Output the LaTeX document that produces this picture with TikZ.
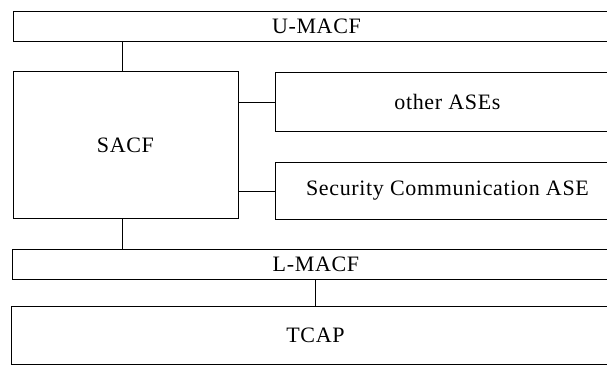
\documentclass[tikz,border=0pt]{standalone}
\usepackage{fontspec}
\setmainfont{Liberation Serif}[LetterSpace=3]
\usetikzlibrary{positioning}

\begin{document}
\begin{tikzpicture}[x=1pt,y=-1pt,line width=0.9pt,
  box/.style={draw,rectangle,anchor=north west,inner sep=0pt,
    font=\fontsize{22}{26}\selectfont}]

  \useasboundingbox (0,0) rectangle (607,365);
  \clip (0,0) rectangle (607,365);

  \node[box,minimum width=606pt,minimum height=30pt]  (umacf) at (13,11)   {U-MACF};
  \node[box,minimum width=225pt,minimum height=147pt] (sacf)  at (12.5,71) {SACF};
  \node[box,minimum width=344pt,minimum height=59pt]  (other) at (275,72)  {other ASEs};
  \node[box,minimum width=344pt,minimum height=57pt]  (sec)   at (275,162) {Security Communication ASE};
  \node[box,minimum width=607pt,minimum height=30pt]  (lmacf) at (12,249)  {L-MACF};
  \node[box,minimum width=608pt,minimum height=58pt]  (tcap)  at (11,306)  {TCAP};

  \draw ([xshift=-3pt]sacf.north) -- ([xshift=-3pt]sacf.north |- umacf.south);
  \draw (other.west) -- (other.west -| sacf.east);
  \draw (sec.west)   -- (sec.west -| sacf.east);
  \draw ([xshift=-3pt]sacf.south) -- ([xshift=-3pt]sacf.south |- lmacf.north);
  \draw (tcap.north) -- (tcap.north |- lmacf.south);
\end{tikzpicture}
\end{document}
